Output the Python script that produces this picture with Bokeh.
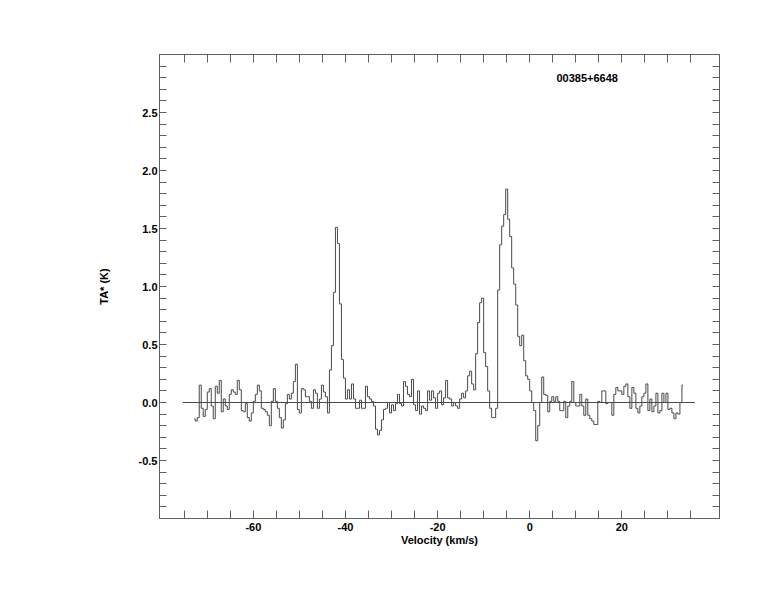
import numpy as np
from bokeh.plotting import figure
from bokeh.models import FixedTicker, LinearAxis, PrintfTickFormatter, Label, Range1d
from bokeh.embed import file_html
from bokeh.resources import INLINE

# ---- data ----
ta = [
    -0.14, -0.16, -0.13, 0.15, -0.05, -0.12, -0.06, 0.09, 0.12, -0.03,
    -0.14, 0.14, 0.08, 0.19, -0.08, 0.03, -0.03, -0.06, 0.07, 0.11,
    0.09, 0.07, 0.19, 0.11, -0.07, -0.08, -0.01, -0.13, -0.16, -0.09,
    0.01, 0.07, 0.15, 0.10, -0.05, -0.06, -0.08, -0.11, -0.20, 0.01,
    0.12, 0.01, -0.05, -0.13, -0.22, -0.15, -0.01, 0.07, 0.03, 0.08,
    0.18, 0.33, -0.06, -0.09, 0.12, 0.11, 0.05, 0.05, 0.01, -0.05,
    0.11, 0.08, -0.05, 0.03, 0.15, 0.09, 0.05, -0.09, 0.28, 0.49,
    0.95, 1.51, 1.37, 0.85, 0.37, 0.21, 0.03, 0.11, 0.03, 0.16,
    0.03, -0.05, -0.05, 0.02, -0.05, -0.05, 0.14, 0.05, 0.03, 0.01,
    -0.03, -0.23, -0.28, -0.24, -0.15, -0.06, -0.05, 0.00, -0.09, -0.02,
    -0.07, -0.01, 0.07, -0.01, -0.03, 0.18, 0.14, 0.07, 0.05, 0.20,
    -0.02, -0.07, 0.10, -0.10, -0.03, -0.05, -0.07, 0.10, 0.02, 0.10,
    0.04, -0.05, 0.08, 0.10, -0.02, 0.04, 0.19, 0.04, 0.03, -0.03,
    0.00, -0.03, -0.05, 0.03, 0.08, 0.04, 0.10, 0.23, 0.27, 0.16,
    0.11, 0.42, 0.69, 0.86, 0.90, 0.43, 0.31, 0.10, -0.05, -0.13,
    -0.13, -0.05, 0.97, 1.36, 1.52, 1.62, 1.84, 1.58, 1.43, 1.16,
    1.02, 0.84, 0.57, 0.49, 0.58, 0.36, 0.23, 0.20, 0.10, 0.00,
    -0.07, -0.33, -0.20, 0.00, 0.22, 0.07, 0.06, -0.08, 0.01, 0.05,
    0.01, 0.05, 0.01, -0.07, -0.07, 0.01, -0.13, -0.03, 0.01, 0.18,
    0.00, -0.03, -0.03, 0.07, -0.03, -0.11, 0.03, -0.11, -0.14, -0.16,
    -0.19, -0.19, 0.01, 0.00, 0.10, 0.10, -0.01, 0.00, 0.00, -0.11,
    0.07, 0.13, 0.10, 0.10, 0.07, 0.14, 0.16, 0.05, -0.05, 0.13,
    0.08, -0.05, -0.09, -0.03, 0.05, 0.08, 0.16, -0.07, 0.03, -0.08,
    -0.03, 0.08, -0.09, -0.07, 0.08, 0.00, 0.08, -0.06, -0.05, -0.09,
    -0.14, -0.09, -0.10, 0.00, 0.15,
]
V_START = -72.83      # km/s, first channel centre
CH_WIDTH = 0.4348     # km/s, channel spacing
velocity = [round(V_START + CH_WIDTH * i, 3) for i in range(len(ta))]

baseline_v = [-75.35, 35.87]
baseline_t = [0.0, 0.0]

x_label_ticks = [-60, -40, -20, 0, 20]
x_minor_ticks = [-75, -70, -65, -55, -50, -45, -35, -30, -25, -15, -10, -5,
                 5, 10, 15, 25, 30, 35]
y_label_ticks = [-0.5, 0.0, 0.5, 1.0, 1.5, 2.0, 2.5]
y_all_ticks = [round(-0.9 + 0.1 * k, 1) for k in range(39)]
y_minor_ticks = [t for t in y_all_ticks if t not in y_label_ticks]

source_name = "00385+6648"
x_title = "Velocity (km/s)"
y_title = "TA* (K)"

# ---- styling ----
GRAY = "#5f5f5f"
LINE = "#4a4a4a"
FONT = "Liberation Sans"

p = figure(width=766, height=598,
           x_range=Range1d(-80.37, 41.2), y_range=Range1d(-1.0, 3.0),
           output_backend="svg", toolbar_location=None,
           min_border_left=159, min_border_right=47,
           min_border_top=54, min_border_bottom=80,
           x_axis_label=x_title, y_axis_label=y_title)
p.grid.visible = False
p.outline_line_color = GRAY
p.outline_line_width = 1
p.background_fill_color = "white"
p.border_fill_color = "white"

p.step(velocity, ta, mode="center", line_color=LINE, line_width=1)
p.line(baseline_v, baseline_t, line_color=LINE, line_width=1)

def style_axis(ax, length):
    ax.axis_line_color = GRAY
    ax.major_tick_line_color = GRAY
    ax.minor_tick_line_color = GRAY
    ax.major_tick_in = length
    ax.major_tick_out = 0
    ax.minor_tick_in = length
    ax.minor_tick_out = 0
    ax.major_label_text_font = FONT
    ax.major_label_text_font_size = "11px"
    ax.major_label_text_font_style = "bold"
    ax.major_label_text_color = "black"
    ax.axis_label_text_font = FONT
    ax.axis_label_text_font_size = "11px"
    ax.axis_label_text_font_style = "bold"
    ax.axis_label_text_color = "black"

xa = p.xaxis[0]
xa.ticker = FixedTicker(ticks=x_label_ticks, minor_ticks=x_minor_ticks)
xa.formatter = PrintfTickFormatter(format="%d")
style_axis(xa, 8)
xa.major_label_standoff = 4
xa.axis_label_standoff = 0

ya = p.yaxis[0]
ya.ticker = FixedTicker(ticks=y_label_ticks, minor_ticks=y_minor_ticks)
ya.formatter = PrintfTickFormatter(format="%.1f")
style_axis(ya, 7)
ya.major_label_standoff = 2
ya.axis_label_standoff = 26

top = LinearAxis(ticker=FixedTicker(ticks=[], minor_ticks=x_label_ticks + x_minor_ticks))
style_axis(top, 8)
top.major_label_text_font_size = "0px"
p.add_layout(top, "above")

right = LinearAxis(ticker=FixedTicker(ticks=[], minor_ticks=y_all_ticks))
style_axis(right, 7)
right.major_label_text_font_size = "0px"
p.add_layout(right, "right")

p.add_layout(Label(x=5.8, y=2.80, text=source_name, text_font=FONT,
                   text_font_size="11px", text_font_style="bold",
                   text_color="black", text_baseline="alphabetic"))

open("out.html", "w").write(file_html(p, INLINE))
